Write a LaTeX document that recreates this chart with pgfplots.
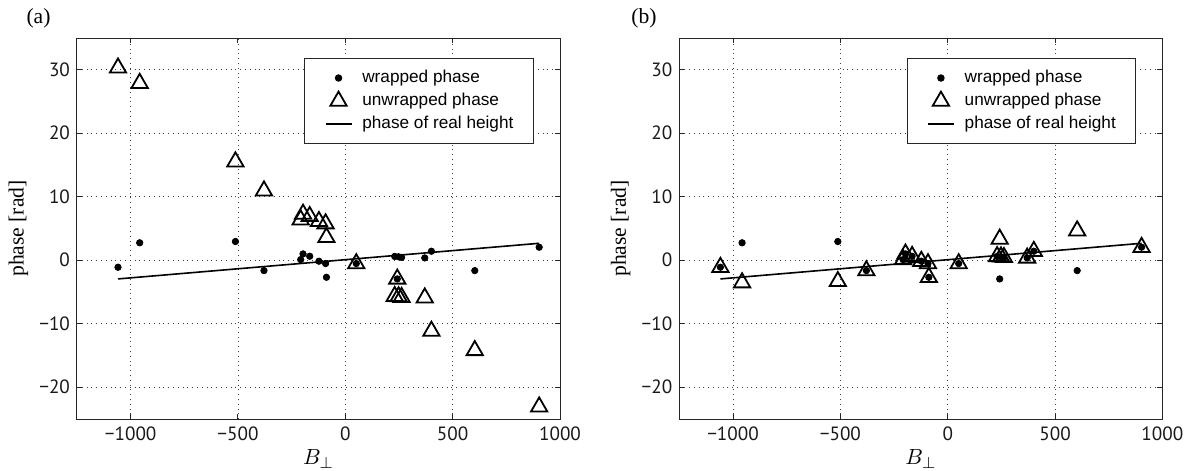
\documentclass[border=0pt]{standalone}
\usepackage{fontspec}
\setmainfont{Liberation Serif}
\newfontfamily\legfont{Liberation Sans}
\newfontfamily\tickfont{PT Sans}
\usepackage{pgfplots}
\usepackage{pgfplotstable}
\pgfplotsset{compat=1.18}

% wrapped phase (same in both panels)
\pgfplotstableread{
B phase
-1059 -1.10
-958 2.75
-512 2.95
-379 -1.63
-208 0.10
-197 1.00
-166 0.63
-123 -0.15
-92 -0.52
-88 -2.68
51 -0.52
230 0.60
248 0.55
262 0.45
242 -2.94
370 0.37
401 1.42
603 -1.63
903 2.05
}\wrapped

% unwrapped, panel (a)
\pgfplotstableread{
B phase
-1059 30.30
-958 27.88
-512 15.52
-379 10.94
-208 6.38
-197 7.28
-166 6.91
-123 6.13
-92 5.76
-88 3.60
51 -0.52
230 -5.68
248 -5.73
262 -5.83
242 -2.94
370 -5.91
401 -11.15
603 -14.20
903 -23.08
}\unwrapA

% unwrapped, panel (b)
\pgfplotstableread{
B phase
-1059 -1.10
-958 -3.53
-512 -3.33
-379 -1.63
-208 0.10
-197 1.00
-166 0.63
-123 -0.15
-92 -0.52
-88 -2.68
51 -0.52
230 0.60
248 0.55
262 0.45
242 3.34
370 0.37
401 1.42
603 4.65
903 2.05
}\unwrapB

% phase of real height
\pgfplotstableread{
B phase
-1059 -2.94
903 2.67
}\realh

\pgfplotsset{
  phaseax/.style={
    width=241.5pt, height=190.5pt, scale only axis,
    xmin=-1250, xmax=1000, ymin=-25, ymax=35,
    xtick={-1000,-500,0,500,1000},
    xticklabels={−1000,−500,0,500,1000},
    ytick={-20,-10,0,10,20,30},
    yticklabels={−20,−10,0,10,20,30},
    tick align=inside, major tick length=2.5pt,
    grid=major,
    grid style={dotted, black!75, line width=0.45pt},
    axis line style={black!85, line width=0.5pt},
    tick style={black!85, line width=0.5pt},
    ticklabel style={font=\tickfont\fontsize{9.6}{11}\selectfont, text=black!90},
    xticklabel style={yshift=-0.3pt},
    xlabel={$B_\perp$}, ylabel={phase [rad]},
    every axis x label/.style={at={([yshift=-20pt]axis description cs:0.5,0)}, anchor=center},
    every axis y label/.style={at={([xshift=-29.3pt]axis description cs:0,0.5)}, anchor=center, rotate=90},
    label style={font=\fontsize{10.8}{12}\selectfont},
    legend style={at={(rel axis cs:0.946,0.9475)}, anchor=north east,
      draw=black!85, line width=0.5pt, fill=white,
      font=\legfont\fontsize{8.6}{10}\selectfont,
      inner xsep=10pt, inner ysep=5pt, row sep=2pt, column sep=5pt,
      nodes={inner sep=0pt, text height=7pt, text depth=2.5pt}},
    legend cell align=left,
  },
  wrapstyle/.style={only marks, mark=*, mark size=1.6pt, black,
    legend image code/.code={\draw[mark repeat=2,mark phase=2,##1] plot coordinates {(0pt,0pt)(6.5pt,0pt)(13pt,0pt)};}},
  unwrapstyle/.style={only marks, mark=triangle, mark size=4.7pt, black, line width=0.9pt,
    legend image code/.code={\draw[mark repeat=2,mark phase=2,##1] plot coordinates {(0pt,0pt)(6.5pt,0pt)(13pt,0pt)};}},
  fitstyle/.style={black, line width=0.8pt, no markers,
    legend image code/.code={\draw[##1] (0pt,0pt) -- (13pt,0pt);}},
}

\begin{document}
\begin{tikzpicture}
\begin{axis}[phaseax, at={(0pt,0pt)}]
\addplot[wrapstyle] table[x=B,y=phase] {\wrapped};
\addlegendentry{wrapped phase}
\addplot[unwrapstyle] table[x=B,y=phase] {\unwrapA};
\addlegendentry{unwrapped phase}
\addplot[fitstyle] table[x=B,y=phase] {\realh};
\addlegendentry{phase of real height}
\end{axis}

\begin{axis}[phaseax, at={(301.2pt,0pt)}]
\addplot[wrapstyle] table[x=B,y=phase] {\wrapped};
\addlegendentry{wrapped phase}
\addplot[unwrapstyle] table[x=B,y=phase] {\unwrapB};
\addlegendentry{unwrapped phase}
\addplot[fitstyle] table[x=B,y=phase] {\realh};
\addlegendentry{phase of real height}
\end{axis}

\node[font=\fontsize{10.8}{12}\selectfont] at (-19.25pt,200.25pt) {(a)};
\node[font=\fontsize{10.8}{12}\selectfont] at (283.5pt,200.25pt) {(b)};

\pgfresetboundingbox
\useasboundingbox (-38.5pt,-26pt) rectangle (556pt,209.5pt);
\end{tikzpicture}
\end{document}
